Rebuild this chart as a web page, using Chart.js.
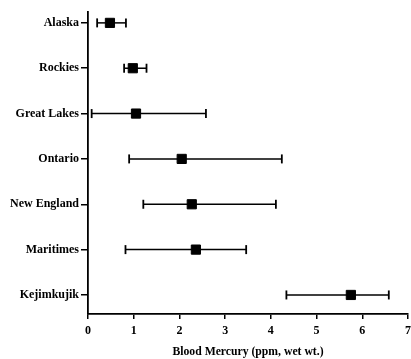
<!DOCTYPE html>
<html>
<head>
<meta charset="utf-8">
<script src="https://cdn.jsdelivr.net/npm/chart.js@4/dist/chart.umd.min.js"></script>
<style>
  html, body { margin: 0; padding: 0; background: #fff; }
  #wrap { width: 411px; height: 359px; }
</style>
</head>
<body>
<div id="wrap"><canvas id="mercuryChart"></canvas></div>
<script>
// Blood mercury by region (mean with range)
const regions = ['Alaska', 'Rockies', 'Great Lakes', 'Ontario', 'New England', 'Maritimes', 'Kejimkujik'];
const means = [0.48, 0.98, 1.05, 2.05, 2.27, 2.36, 5.75];
const lows = [0.20, 0.79, 0.08, 0.90, 1.21, 0.82, 4.34];
const highs = [0.83, 1.28, 2.58, 4.24, 4.11, 3.46, 6.58];
const xTicks = [0, 1, 2, 3, 4, 5, 6, 7];

const serif = "'Liberation Serif', 'DejaVu Serif', serif";

// one line per region for the range, with caps at the ends
const whiskers = regions.map((r, i) => ({
    type: 'scatter',
    data: [{ x: lows[i], y: i }, { x: highs[i], y: i }],
    showLine: true,
    borderColor: '#000',
    borderWidth: 1.5,
    pointStyle: 'line',
    pointRotation: 90,
    pointRadius: 4.5,
    pointBorderWidth: 1.8,
    pointBorderColor: '#000',
    order: 2
}));

const meanSet = {
    type: 'scatter',
    data: means.map((m, i) => ({ x: m, y: i })),
    pointStyle: 'rect',
    pointRadius: 6.5,
    pointBackgroundColor: '#000',
    pointBorderColor: '#000',
    order: 1
};

const ctx = document.getElementById('mercuryChart');
new Chart(ctx.getContext('2d'), {
    type: 'scatter',
    data: { datasets: [...whiskers, meanSet] },
    options: {
        responsive: true,
        maintainAspectRatio: false,
        animation: false,
        layout: { autoPadding: false, padding: { top: 12, right: 3, left: 0, bottom: 0 } },
        plugins: {
            legend: { display: false },
            tooltip: { enabled: false }
        },
        scales: {
            x: {
                type: 'linear',
                min: 0,
                max: 7,
                afterBuildTicks: axis => { axis.ticks = xTicks.map(v => ({ value: v })); },
                afterFit: scale => { scale.height = 45; scale.paddingRight = 0; },
                border: { display: true, color: '#000', width: 1.8 },
                grid: { drawOnChartArea: false, color: '#000', tickLength: 5, lineWidth: 1.5 },
                ticks: {
                    color: '#000',
                    padding: 5,
                    maxRotation: 0,
                    font: { family: serif, size: 12, weight: 'bold' }
                },
                title: {
                    display: true,
                    text: 'Blood Mercury (ppm, wet wt.)',
                    color: '#000',
                    padding: { top: 4, bottom: 0 },
                    font: { family: serif, size: 11.7, weight: 'bold' }
                }
            },
            y: {
                type: 'linear',
                reverse: true,
                min: -0.24,
                max: 6.42,
                afterBuildTicks: axis => { axis.ticks = regions.map((r, i) => ({ value: i })); },
                afterFit: scale => { scale.width = 88; },
                border: { display: true, color: '#000', width: 1.8 },
                grid: { drawOnChartArea: false, color: '#000', tickLength: 7, lineWidth: 1.5 },
                ticks: {
                    color: '#000',
                    padding: 2,
                    callback: v => regions[v],
                    font: { family: serif, size: 12, weight: 'bold' }
                }
            }
        }
    }
});
</script>
</body>
</html>
